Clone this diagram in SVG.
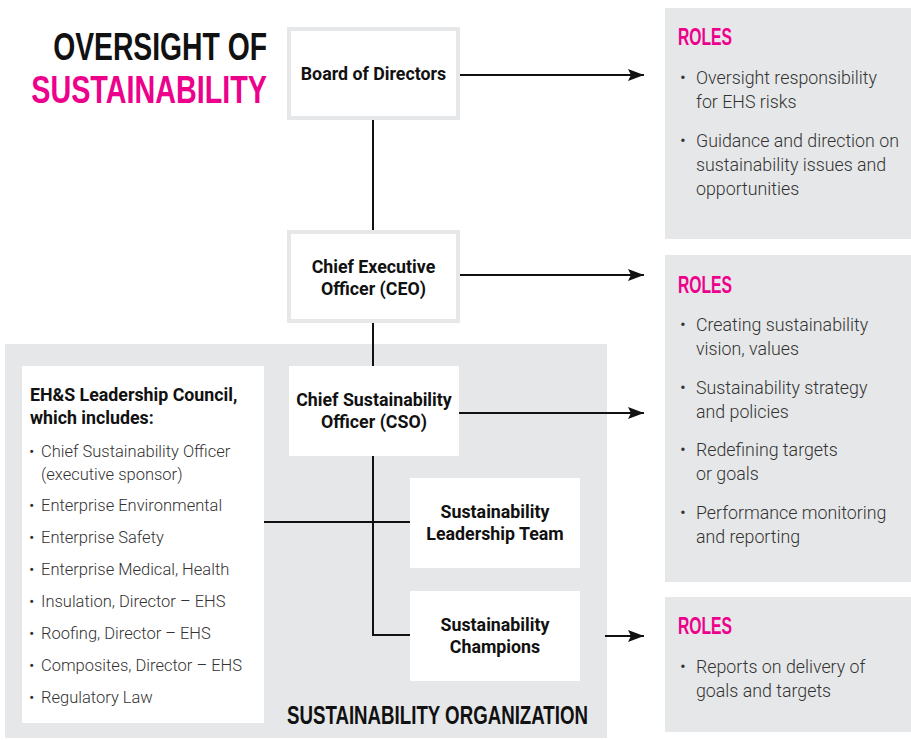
<svg xmlns="http://www.w3.org/2000/svg" width="911" height="740" viewBox="0 0 911 740">
<style>
.bg{fill:#e6e7e8}
.node{fill:#fff}
.bnode{fill:#fff;stroke:#e6e7e8;stroke-width:4}
.lbl{font-family:Roboto,"Liberation Sans",sans-serif;font-weight:700;font-size:17.8px;fill:#111;text-anchor:middle}
.lft{text-anchor:start}
.head{font-family:"Liberation Sans",Arial,sans-serif;font-weight:700}
.roles{font-family:"Liberation Sans",Arial,sans-serif;font-weight:700;font-size:24px;fill:#ec008c}
.item{font-family:Roboto,"Liberation Sans",sans-serif;font-weight:300;font-size:17.8px;fill:#333}
.litem{font-family:Roboto,"Liberation Sans",sans-serif;font-weight:300;font-size:16.5px;fill:#333}
.conn{stroke:#111;stroke-width:2;fill:none}
</style>
<defs>
<marker id="arr" viewBox="0 0 16 12" refX="16" refY="6" markerWidth="16" markerHeight="12" markerUnits="userSpaceOnUse" orient="auto">
<path d="M0,0 L16,6 L0,12 L3,6 Z" fill="#111"/>
</marker>
</defs>
<rect width="911" height="740" fill="#fff"/>
<g id="title">
<text class="head" transform="translate(267,60) scale(0.726,1)" x="0" y="0" font-size="39" text-anchor="end" fill="#111">OVERSIGHT OF</text>
<text class="head" transform="translate(267,103) scale(0.737,1)" x="0" y="0" font-size="39" text-anchor="end" fill="#ec008c">SUSTAINABILITY</text>
</g>
<g id="sustainability-organization">
<rect class="bg" x="5" y="344" width="602" height="394"/>
<text class="head" x="287" y="724" font-size="25" fill="#111" textLength="301" lengthAdjust="spacingAndGlyphs">SUSTAINABILITY ORGANIZATION</text>
</g>
<g id="roles-board">
<rect class="bg" x="665" y="8" width="246" height="231"/>
<text class="roles" x="678" y="45" textLength="54" lengthAdjust="spacingAndGlyphs">ROLES</text>
<text class="item" x="680" y="84">•</text>
<text class="item" x="696" y="84">Oversight responsibility</text>
<text class="item" x="696" y="108">for EHS risks</text>
<text class="item" x="680" y="147">•</text>
<text class="item" x="696" y="147">Guidance and direction on</text>
<text class="item" x="696" y="171">sustainability issues and</text>
<text class="item" x="696" y="195">opportunities</text>
</g>
<g id="roles-exec">
<rect class="bg" x="665" y="255" width="246" height="327"/>
<text class="roles" x="678" y="293" textLength="54" lengthAdjust="spacingAndGlyphs">ROLES</text>
<text class="item" x="680" y="331">•</text>
<text class="item" x="696" y="331">Creating sustainability</text>
<text class="item" x="696" y="355">vision, values</text>
<text class="item" x="680" y="394">•</text>
<text class="item" x="696" y="394">Sustainability strategy</text>
<text class="item" x="696" y="418">and policies</text>
<text class="item" x="680" y="456">•</text>
<text class="item" x="696" y="456">Redefining targets</text>
<text class="item" x="696" y="480">or goals</text>
<text class="item" x="680" y="519">•</text>
<text class="item" x="696" y="519">Performance monitoring</text>
<text class="item" x="696" y="543">and reporting</text>
</g>
<g id="roles-champions">
<rect class="bg" x="665" y="597" width="246" height="135"/>
<text class="roles" x="678" y="634" textLength="54" lengthAdjust="spacingAndGlyphs">ROLES</text>
<text class="item" x="680" y="673">•</text>
<text class="item" x="696" y="673">Reports on delivery of</text>
<text class="item" x="696" y="697">goals and targets</text>
</g>
<g id="connectors">
<line class="conn" x1="373" y1="120" x2="373" y2="230"/>
<line class="conn" x1="373" y1="323" x2="373" y2="366"/>
<polyline class="conn" points="373,456 373,635 410,635"/>
<line class="conn" x1="264" y1="522" x2="410" y2="522"/>
<line class="conn" x1="460" y1="75" x2="644" y2="75" marker-end="url(#arr)"/>
<line class="conn" x1="460" y1="275" x2="644" y2="275" marker-end="url(#arr)"/>
<line class="conn" x1="459" y1="413" x2="644" y2="413" marker-end="url(#arr)"/>
<line class="conn" x1="605" y1="636" x2="644" y2="636" marker-end="url(#arr)"/>
</g>
<g id="board">
<rect class="bnode" x="289" y="29" width="169" height="89"/>
<text class="lbl" x="373.5" y="80">Board of Directors</text>
</g>
<g id="ceo">
<rect class="bnode" x="289" y="232" width="169" height="89"/>
<text class="lbl" x="373.5" y="273">Chief Executive</text>
<text class="lbl" x="373.5" y="295">Officer (CEO)</text>
</g>
<g id="cso">
<rect class="node" x="289" y="366" width="170" height="90"/>
<text class="lbl" x="374" y="406">Chief Sustainability</text>
<text class="lbl" x="374" y="428">Officer (CSO)</text>
</g>
<g id="slt">
<rect class="node" x="410" y="478" width="170" height="90"/>
<text class="lbl" x="495" y="518">Sustainability</text>
<text class="lbl" x="495" y="540">Leadership Team</text>
</g>
<g id="champions">
<rect class="node" x="410" y="591" width="170" height="90"/>
<text class="lbl" x="495" y="631">Sustainability</text>
<text class="lbl" x="495" y="653">Champions</text>
</g>
<g id="ehs-council">
<rect class="node" x="22" y="366" width="242" height="357"/>
<text class="lbl lft" x="30" y="401">EH&amp;S Leadership Council,</text>
<text class="lbl lft" x="30" y="424">which includes:</text>
<text class="litem" x="29" y="457">•</text>
<text class="litem" x="41" y="457">Chief Sustainability Officer</text>
<text class="litem" x="41" y="480">(executive sponsor)</text>
<text class="litem" x="29" y="511">•</text>
<text class="litem" x="41" y="511">Enterprise Environmental</text>
<text class="litem" x="29" y="543">•</text>
<text class="litem" x="41" y="543">Enterprise Safety</text>
<text class="litem" x="29" y="575">•</text>
<text class="litem" x="41" y="575">Enterprise Medical, Health</text>
<text class="litem" x="29" y="607">•</text>
<text class="litem" x="41" y="607">Insulation, Director – EHS</text>
<text class="litem" x="29" y="639">•</text>
<text class="litem" x="41" y="639">Roofing, Director – EHS</text>
<text class="litem" x="29" y="671">•</text>
<text class="litem" x="41" y="671">Composites, Director – EHS</text>
<text class="litem" x="29" y="703">•</text>
<text class="litem" x="41" y="703">Regulatory Law</text>
</g>
</svg>
